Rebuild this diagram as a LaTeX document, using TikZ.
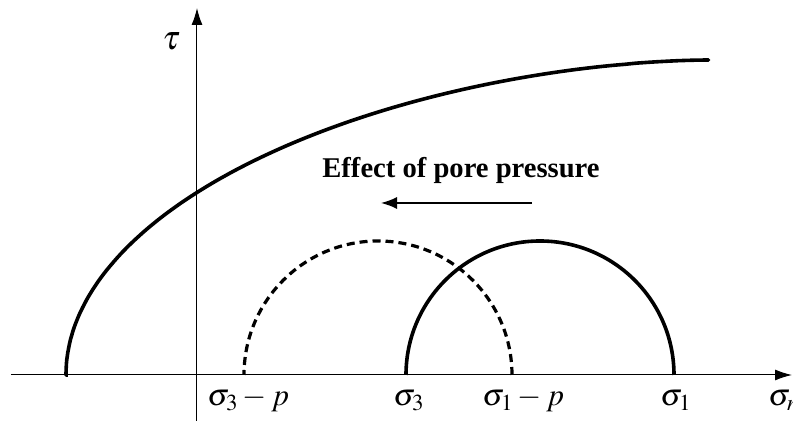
\documentclass[tikz,border=0pt]{standalone}
\usepackage{mathptmx}
\usepackage[no-math]{fontspec}
\setmainfont{Liberation Serif}
\usetikzlibrary{arrows.meta}

\begin{document}
\begin{tikzpicture}[x=0.5pt, y=0.5pt,
  axisline/.style={line width=0.5pt, -{Latex[length=8.5pt, width=5.5pt]}},
  envelope/.style={line width=1.8pt, line cap=round},
  mohr/.style={line width=1.8pt},
  mohrshift/.style={line width=1.6pt, dash pattern=on 4pt off 2.5pt},
  lbl/.style={inner sep=0pt, anchor=base west, font=\fontsize{15.5}{18}\selectfont},
  note/.style={inner sep=0pt, anchor=base, font=\fontsize{14.3}{17}\selectfont\bfseries},
  arrow/.style={-{Latex[length=8pt, width=6pt]}, line width=0.75pt}
]
\useasboundingbox (-197,-46) rectangle (596,375);
\clip (-197,-46) rectangle (596,375);
% axes
\coordinate (O) at (0,0);
\coordinate (xmin) at (-186,0);
\coordinate (xmax) at (595,0);
\coordinate (ymin) at (0,-46);
\coordinate (ymax) at (0,367);
\draw[axisline] (xmin) -- (xmax);
\draw[axisline] (ymin) -- (ymax);
\node[lbl, font=\fontsize{17}{20}\selectfont] (tau) at (-35,325) {$\tau$};

% failure envelope
\coordinate (fstart) at (-131,0);
\draw[envelope] (fstart) -- plot[domain=0.002:0.999, samples=120, smooth]
  ({-131+644*\x*\x}, {315*sqrt(1-(1-\x*\x)^1.8)});

% Mohr circles
\coordinate (s3p) at (47,0);
\coordinate (s1p) at (315,0);
\coordinate (s3) at (209,0);
\coordinate (s1) at (477,0);
\draw[mohr] (s1) arc[start angle=0, end angle=180, radius=134];
\draw[mohrshift] (s1p) arc[start angle=0, end angle=180, radius=134];

% stresses on the axis
\node[lbl] (ls3p) at (10,-31) {$\sigma_3 - p$};
\node[lbl] (ls3) at (196,-31) {$\sigma_3$};
\node[lbl] (ls1p) at (285,-31) {$\sigma_1 - p$};
\node[lbl] (ls1) at (463,-31) {$\sigma_1$};
\node[lbl] (lsn) at (571,-31) {$\sigma_n$};

% shift by pore pressure
\node[note] (effect) at (264,197) {Effect of pore pressure};
\coordinate (pfrom) at (335,172);
\coordinate (pto) at (184,172);
\draw[arrow] (pfrom) -- (pto);
\end{tikzpicture}
\end{document}
